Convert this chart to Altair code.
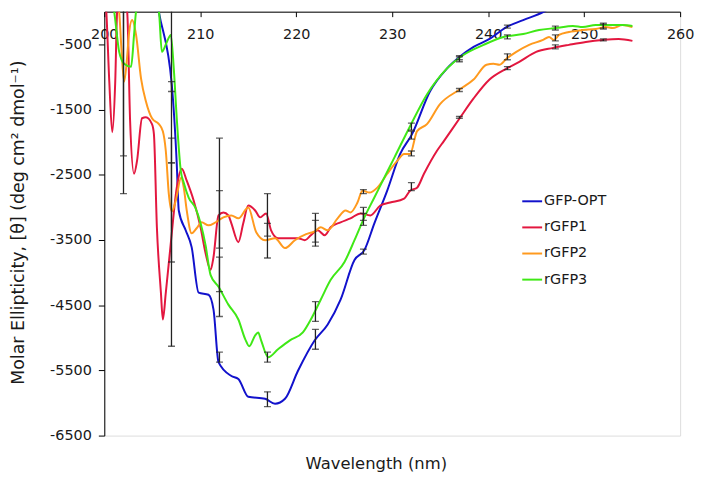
import altair as alt
import pandas as pd

series_names = ["GFP-OPT", "rGFP1", "rGFP2", "rGFP3"]
series_colors = ["#1212CC", "#E3173F", "#FF9A1E", "#3FE816"]

x_ticks = [200, 210, 220, 230, 240, 250, 260]
y_ticks = [-500, -1500, -2500, -3500, -4500, -5500, -6500]

# GFP-OPT (blue)
wl_gfp_opt = [205.0, 205.69, 207.03, 207.55, 207.76, 208.48, 209.10, 209.83, 210.86, 211.38, 211.90,
              213.24, 213.97, 215.00, 216.76, 217.79, 218.83, 220.17, 221.93, 223.28, 224.62, 226.07,
              227.10, 228.14, 229.48, 230.83, 232.07, 233.93, 235.69, 237.03, 238.48, 240.14, 241.90,
              243.65, 245.72, 247.5, 250.0, 255.0]
cd_gfp_opt = [600, -8, -1117, -2333, -3048, -3352, -3610, -4309, -4340, -4568, -5374,
              -5586, -5632, -5905, -5936, -6012, -5936, -5510, -5039, -4796, -4416, -3808,
              -3656, -3245, -2744, -2181, -1877, -1224, -874, -692, -540, -418, -236,
              -129, -8, 150, 300, 450]

# rGFP1 (red)
wl_rgfp1 = [200.0, 200.21, 200.52, 200.83, 201.14, 201.34, 201.76, 202.38, 202.69, 203.10, 203.41,
            203.93, 204.34, 204.97, 205.17, 205.48, 205.90, 206.10, 206.41, 206.93, 207.55, 208.07,
            208.59, 209.31, 210.03, 210.55, 211.07, 211.38, 211.90, 212.41, 212.93, 213.24, 213.97,
            214.48, 215.00, 215.72, 216.24, 216.86, 217.38, 218.10, 219.14, 220.17, 220.90, 221.52,
            222.24, 222.96, 223.59, 224.62, 225.65, 226.69, 227.72, 228.76, 229.79, 231.24, 231.86,
            232.59, 233.31, 234.65, 235.38, 237.03, 238.48, 240.14, 241.90, 243.24, 245.00, 246.76,
            248.41, 250.17, 251.93, 253.59, 255.03]
cd_rgfp1 = [400, 0, -1072, -1847, -1072, 0, 250, 0, -1680, -2485, -2288,
            -1634, -1619, -1725, -1877, -3306, -4309, -4720, -4309, -3549, -2698, -2409,
            -2592, -2896, -3306, -3701, -3960, -3762, -3124, -3078, -3124, -3245, -3534,
            -3245, -2972, -3048, -3154, -3093, -3352, -3473, -3473, -3473, -3504, -3428,
            -3352, -3428, -3306, -3230, -3169, -3093, -3124, -2972, -2926, -2865, -2744,
            -2698, -2485, -2136, -1984, -1634, -1330, -1041, -874, -768, -616, -555,
            -509, -464, -433, -418, -448]

# rGFP2 (orange)
wl_rgfp2 = [201.0, 201.55, 201.76, 202.07, 202.38, 202.59, 202.90, 203.31, 203.83, 204.34, 204.97,
            205.69, 206.10, 206.41, 206.72, 207.03, 207.45, 208.00, 208.28, 208.59, 209.10, 209.62,
            210.14, 210.86, 211.59, 212.41, 213.24, 213.97, 215.00, 215.83, 216.76, 217.79, 218.83,
            219.86, 221.03, 221.93, 222.55, 223.28, 224.31, 225.14, 225.65, 226.38, 226.90, 227.62,
            228.45, 229.48, 230.52, 231.24, 231.86, 232.59, 233.62, 234.96, 237.03, 238.48, 239.83,
            240.55, 241.17, 241.90, 242.93, 244.27, 245.72, 246.34, 246.86, 247.38, 248.41, 249.86,
            251.21, 252.24, 252.97, 254.00, 254.62, 255.03]
cd_rgfp2 = [400, 0, -509, -1072, -692, -312, -129, -357, -1026, -1376, -1634,
            -1725, -1832, -2136, -2789, -3063, -2896, -2546, -2698, -3048, -3397, -3321,
            -3230, -3276, -3230, -3154, -3124, -3169, -3002, -3382, -3504, -3473, -3625,
            -3504, -3412, -3367, -3306, -3352, -3169, -3048, -3078, -2926, -2744, -2774,
            -2698, -2485, -2288, -2181, -2181, -1832, -1725, -1421, -1193, -1041, -813,
            -798, -813, -722, -616, -509, -433, -388, -433, -357, -312, -281,
            -266, -236, -251, -205, -220, -236]

# rGFP3 (green)
wl_rgfp3 = [200.5, 201.03, 201.55, 202.07, 202.79, 203.10, 203.31, 204.5, 205.69, 206.00, 206.52,
            206.93, 207.24, 207.55, 207.97, 208.28, 208.79, 209.52, 210.55, 211.07, 211.90, 212.93,
            213.97, 214.69, 215.10, 215.72, 216.03, 216.34, 217.07, 218.10, 219.34, 220.69, 221.52,
            222.55, 223.59, 225.03, 226.07, 227.10, 228.14, 229.17, 230.21, 231.86, 233.62, 235.69,
            237.45, 239.52, 241.59, 243.65, 245.31, 247.07, 248.83, 249.86, 251.21, 252.55, 254.00,
            255.03]
cd_rgfp3 = [400, 0, -616, -798, -844, -357, 0, 500, 0, -616, -464,
            -357, -874, -1634, -2440, -2622, -2850, -3017, -3580, -4036, -4218, -4492,
            -4720, -5024, -5130, -4963, -4918, -5039, -5298, -5176, -5039, -4918, -4720,
            -4416, -4112, -3838, -3504, -3154, -2850, -2546, -2242, -1756, -1269, -874,
            -661, -509, -388, -342, -281, -251, -220, -236, -205, -205, -205,
            -220]

# error bars (low / high) at every 5 nm
err_wl = [202, 207, 212, 217, 222, 227, 232, 237, 242, 247, 252]
err_lo_gfp_opt = [None, -1224, -5374, -6057, -5176, -3717, -1953, -768, -251, None, None]
err_hi_gfp_opt = [None, -1072, -5221, -5829, -4872, -3641, -1832, -692, -205, None, None]
err_lo_rgfp1 = [None, -5130, -4294, -3443, -3595, -3200, -2744, -1634, -889, -570, -448]
err_hi_rgfp1 = [None, -1939, -1939, -2790, -3093, -3002, -2622, -1604, -844, -509, -418]
err_lo_rgfp2 = [-2790, -3838, -3625, -3777, -3534, -2790, -2212, -1224, -737, -448, -251]
err_hi_rgfp2 = [650, -2318, -2744, -3245, -3200, -2728, -2136, -1178, -646, -357, -190]
err_lo_rgfp3 = [-2212, -2318, -4674, -5374, -4750, -3276, -1817, -737, -418, -281, -266]
err_hi_rgfp3 = [600, 700, -3762, -5221, -4446, -3093, -1710, -676, -357, -220, -175]

FONT = "DejaVu Sans"
TXT = "#1a1a1a"

rows = []
for name, wls, vals in [("GFP-OPT", wl_gfp_opt, cd_gfp_opt), ("rGFP1", wl_rgfp1, cd_rgfp1),
                        ("rGFP2", wl_rgfp2, cd_rgfp2), ("rGFP3", wl_rgfp3, cd_rgfp3)]:
    for w, v in zip(wls, vals):
        rows.append({"series": name, "wl": w, "cd": v})
line_df = pd.DataFrame(rows)

erows = []
for name, lo, hi in [("GFP-OPT", err_lo_gfp_opt, err_hi_gfp_opt), ("rGFP1", err_lo_rgfp1, err_hi_rgfp1),
                     ("rGFP2", err_lo_rgfp2, err_hi_rgfp2), ("rGFP3", err_lo_rgfp3, err_hi_rgfp3)]:
    for w, a, b in zip(err_wl, lo, hi):
        if a is not None:
            erows.append({"series": name, "wl": w, "lo": a, "hi": b})
err_df = pd.DataFrame(erows)

xscale = alt.Scale(domain=[200, 260], nice=False, zero=False)
yscale = alt.Scale(domain=[-6500, 0], nice=False, zero=False)

x_axis = alt.Axis(orient="bottom", offset=-427, values=x_ticks, tickSize=5, labelPadding=11,
                  grid=False, domainColor="black", tickColor="black", labelColor=TXT,
                  labelFont=FONT, labelFontSize=14.5, labelFlush=False, labelOverlap=False, title=None)
y_axis = alt.Axis(values=y_ticks, tickSize=6, labelPadding=7, grid=False, domainColor="black",
                  tickColor="black", labelColor=TXT, labelFont=FONT, labelFontSize=14.5,
                  labelExpr="'' + datum.value",
                  title="Molar Ellipticity, [θ] (deg cm² dmol⁻¹)", titleFont=FONT, titleFontSize=17.5,
                  titleFontWeight="normal", titleColor=TXT, titleAngle=270, titleX=-86, titleY=212,
                  titleAlign="center", titleBaseline="middle")

color = alt.Color("series:N", scale=alt.Scale(domain=series_names, range=series_colors),
                  legend=alt.Legend(orient="none", legendX=420, legendY=180, title=None,
                                    symbolType="stroke", symbolSize=400, symbolStrokeWidth=2,
                                    labelFont=FONT, labelFontSize=14.5, labelColor=TXT,
                                    labelOffset=1, rowPadding=8.3, padding=0))

lines = alt.Chart(line_df).mark_line(strokeWidth=2, clip=True, interpolate="monotone").encode(
    x=alt.X("wl:Q", scale=xscale, axis=x_axis),
    y=alt.Y("cd:Q", scale=yscale, axis=y_axis),
    color=color,
    order=alt.Order("wl:Q"),
)

rules = alt.Chart(err_df).mark_rule(color="#222222", strokeWidth=1.3, clip=True).encode(
    x="wl:Q", y="lo:Q", y2="hi:Q")
caps_lo = alt.Chart(err_df).mark_tick(color="#222222", thickness=1.3, size=7, orient="horizontal",
                                      clip=True).encode(x="wl:Q", y="lo:Q")
caps_hi = alt.Chart(err_df).mark_tick(color="#222222", thickness=1.3, size=7, orient="horizontal",
                                      clip=True).encode(x="wl:Q", y="hi:Q")

chart = alt.layer(lines, rules, caps_lo, caps_hi).properties(
    width=580, height=427,
    autosize=alt.AutoSizeParams(type="none"),
    padding={"left": 97, "top": 2, "right": 16, "bottom": 40},
    title=alt.TitleParams("Wavelength (nm)", orient="bottom", anchor="middle", frame="group",
                          offset=14, dx=-16, font=FONT, fontSize=16.5, fontWeight="normal", color=TXT),
).configure_view(stroke=None).configure(background="white")

chart.save("out.html", embed_options={"renderer": "svg", "actions": False})
